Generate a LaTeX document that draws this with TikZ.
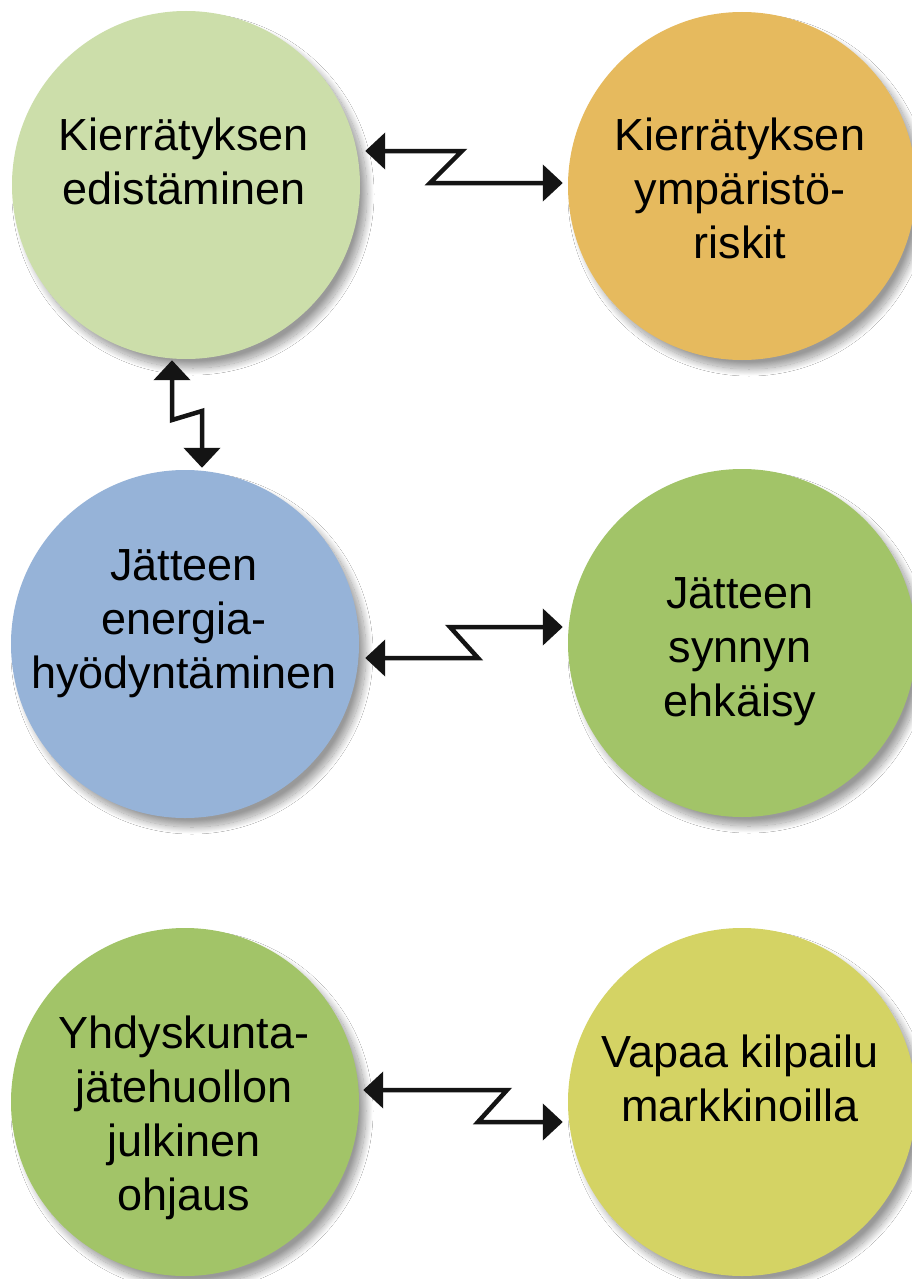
\documentclass[tikz,border=0pt]{standalone}
\usepackage{fontspec}
\setmainfont{Liberation Sans}
\usetikzlibrary{calc,arrows.meta,shadows.blur}
\definecolor{cTL}{RGB}{204,222,170}
\definecolor{cTR}{RGB}{230,186,94}
\definecolor{cML}{RGB}{150,179,216}
\definecolor{cMR}{RGB}{162,196,104}
\definecolor{cBR}{RGB}{212,211,100}
\definecolor{conncol}{RGB}{20,20,20}
\tikzset{
  bubble/.style={circle, minimum size=348pt, inner sep=0pt, draw=none,
    blur shadow={shadow xshift=7pt, shadow yshift=-9pt, shadow blur radius=7pt, shadow blur steps=20, shadow opacity=40}},
  lbl/.style={anchor=base, inner sep=0pt, font=\fontsize{45}{54}\selectfont},
  conn/.style={draw=conncol, line width=4.5pt, line join=miter, >={Triangle[length=20pt,width=36pt]}, <->}
}
\begin{document}
\begin{tikzpicture}[x=1pt,y=-1pt]
\useasboundingbox (0,0) rectangle (912,1279);
\fill[white] (0,0) rectangle (912,1279);

\node[bubble, fill=cTL] (kr)  at (186,185) {};
\node[bubble, fill=cTR] (kyr) at (742,186) {};
\node[bubble, fill=cML] (jeh) at (185,644) {};
\node[bubble, fill=cMR] (jse) at (742,643) {};
\node[bubble, fill=cMR] (yjo) at (185,1102) {};
\node[bubble, fill=cBR] (vkm) at (742,1102) {};

\node[lbl] (kr-t)  at (184,150)  {\begin{tabular}[t]{@{}c@{}}Kierrätyksen\\edistäminen\end{tabular}};
\node[lbl] (kyr-t) at (740,150)  {\begin{tabular}[t]{@{}c@{}}Kierrätyksen\\ympäristö-\\riskit\end{tabular}};
\node[lbl] (jeh-t) at (184,580)  {\begin{tabular}[t]{@{}c@{}}Jätteen\\energia-\\hyödyntäminen\end{tabular}};
\node[lbl] (jse-t) at (740,608)  {\begin{tabular}[t]{@{}c@{}}Jätteen\\synnyn\\ehkäisy\end{tabular}};
\node[lbl] (yjo-t) at (184,1048) {\begin{tabular}[t]{@{}c@{}}Yhdyskunta-\\jätehuollon\\julkinen\\ohjaus\end{tabular}};
\node[lbl] (vkm-t) at (740,1067) {\begin{tabular}[t]{@{}c@{}}Vapaa kilpailu\\markkinoilla\end{tabular}};

\draw[conn] ($(kr.east)+(5,-34)$) -- (462,151) -- (430,183) -- ($(kyr.west)+(-5,-3)$);
\draw[conn] ($(kr.south)+(-14,1)$) -- (172,420) -- (202,411) -- ($(jeh.north)+(17,-2)$);
\draw[conn] ($(jeh.east)+(6,14)$) -- (478,658) -- (450,627) -- ($(jse.west)+(-5,-16)$);
\draw[conn] ($(yjo.east)+(4,-12)$) -- (507,1090) -- (478,1122) -- ($(vkm.west)+(-5,20)$);
\end{tikzpicture}
\end{document}
